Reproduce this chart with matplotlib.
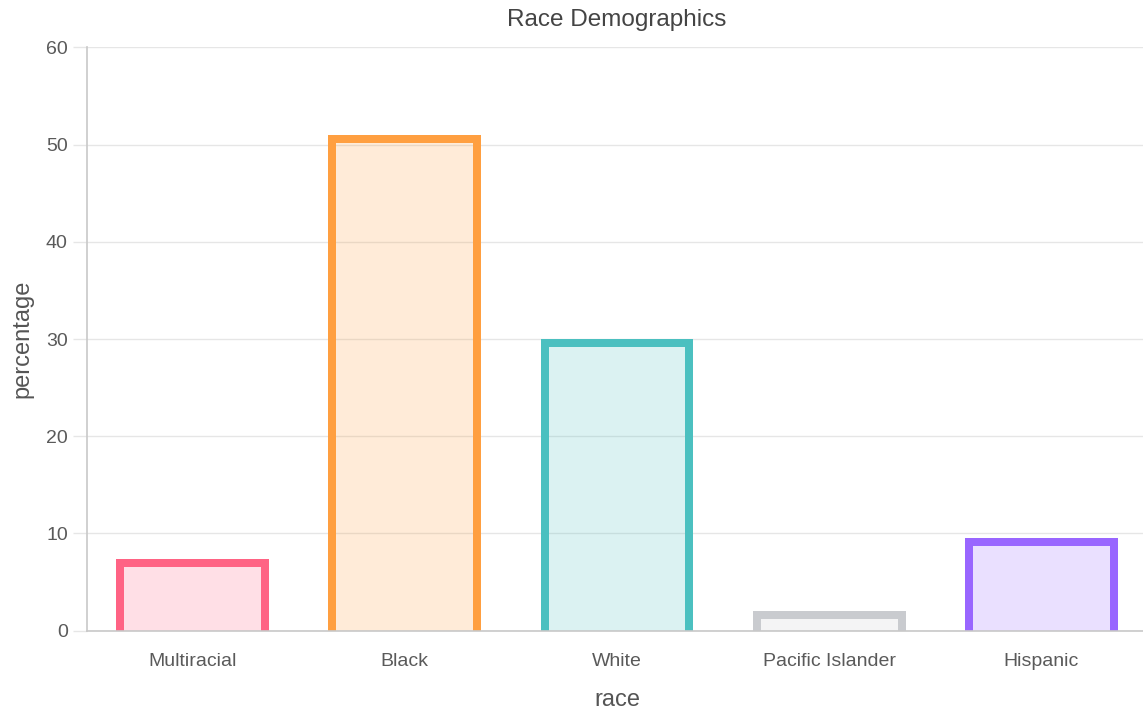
import matplotlib.pyplot as plt
from matplotlib.colors import to_rgba

plt.rcParams['font.family'] = ['Liberation Sans', 'DejaVu Sans']

# data
races = ['Multiracial', 'Black', 'White', 'Pacific Islander', 'Hispanic']
percentages = [7.4, 51.0, 30.0, 2.0, 9.5]
border_colors = ['#ff6384', '#ff9f40', '#4bc0c0', '#c9cbcf', '#9966ff']

fig = plt.figure(figsize=(11.43, 7.10), dpi=100)
ax_w_px, ax_h_px = 1061, 630.7 - 47.3
ax = fig.add_axes([86.5 / 1143, 1 - 630.7 / 710, ax_w_px / 1143, ax_h_px / 710])

bar_w = 0.72
x = list(range(len(races)))
fills = [to_rgba(c, 0.2) for c in border_colors]
ax.bar(x, percentages, width=bar_w, color=fills, linewidth=0, zorder=3)

# border drawn inside the bar, bottom side skipped (chart.js style)
border_px = 8
dx = (border_px / 2) / (ax_w_px / 5)
dy = (border_px / 2) / (ax_h_px / 60)
for xi, val, col in zip(x, percentages, border_colors):
    x0 = xi - bar_w / 2 + dx
    x1 = xi + bar_w / 2 - dx
    top = val - dy
    ax.plot([x0, x0, x1, x1], [-1, top, top, -1], color=col,
            linewidth=border_px * 72 / 100, solid_joinstyle='miter',
            solid_capstyle='butt', zorder=4)

ax.set_xlim(-0.5, 4.5)
ax.set_ylim(0, 60)
ax.set_yticks(range(0, 61, 10))
ax.set_xticks(x)
ax.set_xticklabels(races)

ax.grid(axis='y', color='#e6e6e6', linewidth=1.0, zorder=0)
ax.tick_params(axis='y', length=10, width=1.0, color='#e6e6e6', pad=3.5,
               labelsize=14, labelcolor='#5a5a5a')
ax.tick_params(axis='x', length=0, pad=16, labelsize=14, labelcolor='#5a5a5a')

for s in ['top', 'right']:
    ax.spines[s].set_visible(False)
for s in ['left', 'bottom']:
    ax.spines[s].set_color('#c8c8c8')
    ax.spines[s].set_linewidth(1.2)
    ax.spines[s].set_zorder(5)

ax.set_title('Race Demographics', fontsize=17.5, color='#444444', pad=15)
ax.set_ylabel('percentage', fontsize=17, color='#555555', labelpad=9)
ax.set_xlabel('race', fontsize=17, color='#555555', labelpad=14)

fig.savefig('out.png', dpi=100)
